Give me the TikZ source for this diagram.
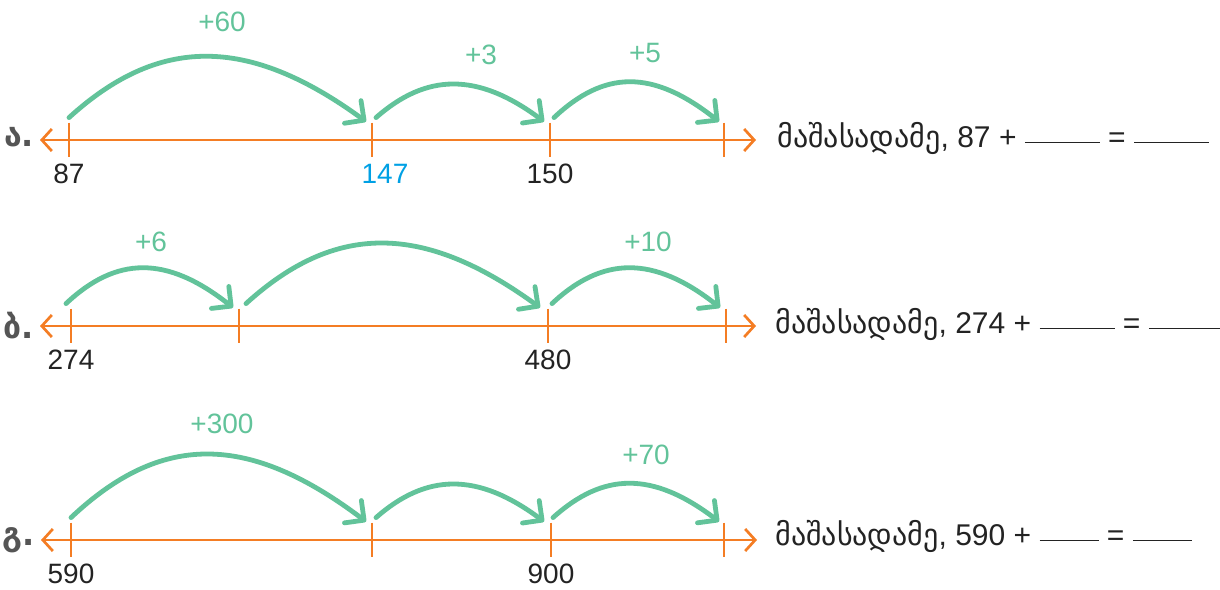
\documentclass[tikz,border=0pt]{standalone}
\usepackage{fontspec}
\setmainfont{Liberation Sans}
\newfontfamily\geo{DejaVu Sans}
\usetikzlibrary{arrows.meta,positioning}

\definecolor{jump}{RGB}{98,195,154}
\definecolor{axisorange}{RGB}{244,125,36}
\definecolor{ink}{RGB}{35,35,35}
\definecolor{lettergray}{RGB}{85,85,85}
\definecolor{hand}{RGB}{0,160,228}
\newcommand\numsize{\fontsize{14}{16}\selectfont}

\tikzset{
  numline/.style={draw=axisorange, line width=1.35pt,
    {Straight Barb[length=5pt,width=11pt]}-{Straight Barb[length=5pt,width=11pt]}},
  tick/.style={draw=none, inner sep=0pt, minimum width=0pt, minimum height=17pt},
  tickmark/.style={draw=axisorange, line width=1.35pt},
  hop/.style={draw=jump, line width=2.4pt, line cap=round,
    -{Straight Barb[length=7pt,width=14pt,round]}},
  hoplabel/.style={text=jump, inner sep=0pt, font=\numsize},
  num/.style={text=ink, inner sep=0pt, font=\numsize},
  letter/.style={text=lettergray, inner sep=0pt, font=\geo\bfseries\fontsize{16}{18}\selectfont},
  sentence/.style={anchor=base west, text=ink, inner sep=0pt, font=\fontsize{15}{17}\selectfont}
}

\begin{document}
\begin{tikzpicture}[x=0.5pt, y=-0.5pt]
  \useasboundingbox (0,0) rectangle (1220,589);

  % row a
  \coordinate (aL) at (40,140);
  \coordinate (aR) at (756,140);
  \draw[numline] (aL) -- (aR);
  \node[tick] (a0) at (69,140) {};
  \node[tick] (a1) at (372,140) {};
  \node[tick] (a2) at (550,140) {};
  \node[tick] (a3) at (724,140) {};
  \foreach \t in {a0,a1,a2,a3}
    \draw[tickmark] (\t.north) -- (\t.south);
  \node[letter] (la) at (19,137) {ა.};
  \node[num, below=3pt of a0] (na0) {87};
  \node[num, text=hand, below=3pt of a1, xshift=6.5pt] (na1) {147};
  \node[num, below=3pt of a2] (na2) {150};
  \draw[hop] ([yshift=2.5pt]a0.north) .. controls +(89,-81) and +(-119,-87) .. ([xshift=-3pt,yshift=0.5pt]a1.north);
  \draw[hop] ([xshift=2pt,yshift=2.5pt]a1.north) .. controls +(50,-44) and +(-67,-50) .. ([xshift=-3pt,yshift=0.5pt]a2.north);
  \draw[hop] ([xshift=2pt,yshift=2.5pt]a2.north) .. controls +(50,-47) and +(-67,-53) .. ([xshift=-2.5pt,yshift=0.5pt]a3.north);
  \node[hoplabel] (ha0) at (222,22) {+60};
  \node[hoplabel] (ha1) at (481,55) {+3};
  \node[hoplabel] (ha2) at (645,53) {+5};
  \node[sentence] (sa) at (777,147) {{\geo მაშასადამე}, 87 + \rule[2pt]{37.5pt}{0.6pt} = \rule[2pt]{37.5pt}{0.6pt}};

  % row b
  \coordinate (bL) at (40,326);
  \coordinate (bR) at (756,326);
  \draw[numline] (bL) -- (bR);
  \node[tick] (b0) at (71,326) {};
  \node[tick] (b1) at (239,326) {};
  \node[tick] (b2) at (548,326) {};
  \node[tick] (b3) at (726,326) {};
  \foreach \t in {b0,b1,b2,b3}
    \draw[tickmark] (\t.north) -- (\t.south);
  \node[letter] (lb) at (19,326) {ბ.};
  \node[num, below=3pt of b0] (nb0) {274};
  \node[num, below=3pt of b2] (nb2) {480};
  \draw[hop] ([xshift=-2.5pt,yshift=2.5pt]b0.north) .. controls +(50,-47) and +(-67,-53) .. ([xshift=-3pt,yshift=0.5pt]b1.north);
  \draw[hop] ([xshift=3.5pt,yshift=2.5pt]b1.north) .. controls +(88,-80) and +(-118,-86) .. ([xshift=-4pt,yshift=0.5pt]b2.north);
  \draw[hop] ([xshift=2pt,yshift=2.5pt]b2.north) .. controls +(50,-47) and +(-67,-53) .. ([xshift=-3pt,yshift=0.5pt]b3.north);
  \node[hoplabel] (hb0) at (151,242) {+6};
  \node[hoplabel] (hb2) at (648,242) {+10};
  \node[sentence] (sb) at (775,333) {{\geo მაშასადამე}, 274 + \rule[2pt]{37.5pt}{0.6pt} = \rule[2pt]{37.5pt}{0.6pt}};

  % row c
  \coordinate (cL) at (41,540);
  \coordinate (cR) at (757,540);
  \draw[numline] (cL) -- (cR);
  \node[tick] (c0) at (71,540) {};
  \node[tick] (c1) at (372,540) {};
  \node[tick] (c2) at (551,540) {};
  \node[tick] (c3) at (724,540) {};
  \foreach \t in {c0,c1,c2,c3}
    \draw[tickmark] (\t.north) -- (\t.south);
  \node[letter] (lc) at (19,540) {გ.};
  \node[num, below=3pt of c0] (nc0) {590};
  \node[num, below=3pt of c2] (nc2) {900};
  \draw[hop] ([yshift=2.5pt]c0.north) .. controls +(89,-84) and +(-119,-90) .. ([xshift=-3pt,yshift=0.5pt]c1.north);
  \draw[hop] ([xshift=2pt,yshift=2.5pt]c1.north) .. controls +(50,-44) and +(-67,-50) .. ([xshift=-3.5pt,yshift=0.5pt]c2.north);
  \draw[hop] ([xshift=1pt,yshift=2.5pt]c2.north) .. controls +(50,-45) and +(-67,-51) .. ([xshift=-2.5pt,yshift=0.5pt]c3.north);
  \node[hoplabel] (hc0) at (222,424) {+300};
  \node[hoplabel] (hc2) at (646,455) {+70};
  \node[sentence] (sc) at (775,545) {{\geo მაშასადამე}, 590 + \rule[2pt]{29.5pt}{0.6pt} = \rule[2pt]{29.5pt}{0.6pt}};
\end{tikzpicture}
\end{document}
